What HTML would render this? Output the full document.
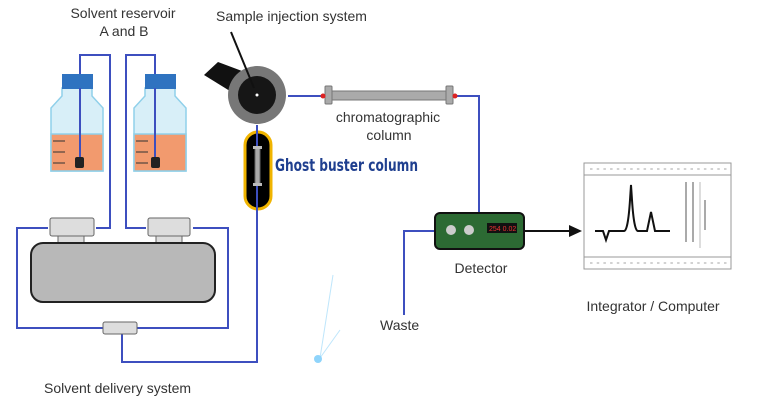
<!DOCTYPE html>
<html><head><meta charset="utf-8"><style>
html,body{margin:0;padding:0;background:#fff;}
svg{display:block;}
text{font-family:"Liberation Sans",sans-serif;fill:#333;font-size:14px;}
</style></head><body>
<svg width="773" height="409" viewBox="0 0 773 409" xmlns="http://www.w3.org/2000/svg">
<g fill="none" stroke="#3d4fbf" stroke-width="2">
<path d="M80 160 V55 H110 V228 H96"/>
<path d="M155 160 V55 H126 V228 H146"/>
<path d="M48 228 H17 V328 H228 V228 H193"/>
<path d="M122 334 V362 H257 V125"/>
<path d="M288 96 H323"/>
<path d="M455 96 H479 V214"/>
<path d="M436 231 H404 V315"/>
</g>
<g stroke="#8fd0ea" stroke-width="1.5">
<path d="M62 88 V96 L51 108 V171 H103 V108 L92 96 V88 Z" fill="#d8eff8"/>
<path d="M51 134 H103 V171 H51 Z" fill="#f29a6e"/>
<path d="M145 88 V96 L134 108 V171 H186 V108 L175 96 V88 Z" fill="#d8eff8"/>
<path d="M134 134 H186 V171 H134 Z" fill="#f29a6e"/>
</g>
<rect x="62" y="74" width="31" height="15" fill="#2f73c0"/>
<rect x="145" y="74" width="31" height="15" fill="#2f73c0"/>
<g stroke="#333" stroke-width="1"><path d="M53 141h12M53 152h12M53 163h12M136 141h12M136 152h12M136 163h12"/></g>
<path d="M80 88 V160 M155 88 V160" stroke="#3d4fbf" stroke-width="2"/>
<rect x="75" y="157" width="9" height="11" rx="2" fill="#222"/>
<rect x="151" y="157" width="9" height="11" rx="2" fill="#222"/>
<g stroke="#666" stroke-width="1" fill="#ddd">
<rect x="58" y="233" width="26" height="12"/>
<rect x="156" y="233" width="26" height="12"/>
<rect x="50" y="218" width="44" height="18" rx="2"/>
<rect x="148" y="218" width="42" height="18" rx="2"/>
<rect x="103" y="322" width="34" height="12" rx="2"/>
</g>
<rect x="31" y="243" width="184" height="59" rx="12" fill="#b8b8b8" stroke="#222" stroke-width="2"/>
<path d="M204 75 L218 62 L242 71 L238 96 Z" fill="#111"/>
<circle cx="257" cy="95" r="29" fill="#777"/>
<circle cx="257" cy="95" r="19" fill="#161616"/>
<circle cx="257" cy="95" r="1.5" fill="#fff"/>
<path d="M231 32 L254 88" stroke="#111" stroke-width="2"/>
<rect x="245" y="132" width="26" height="77" rx="13" fill="#000" stroke="#f0b400" stroke-width="3"/>
<path d="M257 125 V215" stroke="#3d4fbf" stroke-width="2"/>
<rect x="255" y="148" width="5" height="36" fill="#aaa" stroke="#666"/>
<rect x="253" y="146" width="9" height="3" fill="#bbb"/><rect x="253" y="183" width="9" height="3" fill="#bbb"/>
<rect x="331" y="91" width="115" height="9" fill="#aaa" stroke="#777"/>
<rect x="325" y="86" width="7" height="18" rx="1" fill="#aaa" stroke="#777"/>
<rect x="446" y="86" width="7" height="18" rx="1" fill="#aaa" stroke="#777"/>
<circle cx="323" cy="96" r="2.5" fill="#d22"/><circle cx="455" cy="96" r="2.5" fill="#d22"/>
<rect x="435" y="213" width="89" height="36" rx="5" fill="#2c6a33" stroke="#111" stroke-width="2"/>
<circle cx="451" cy="230" r="5" fill="#ccc"/><circle cx="469" cy="230" r="5" fill="#ccc"/>
<rect x="487" y="223" width="30" height="10" fill="#111"/>
<text x="489" y="231" style="font-size:7px;fill:#e33">254 0.02</text>
<path d="M524 231 H572" stroke="#111" stroke-width="2"/>
<path d="M582 231 L569 225 L569 237 Z" fill="#111"/>
<rect x="584" y="163" width="147" height="106" fill="#fff" stroke="#999"/>
<path d="M584 175 H731 M584 257 H731" stroke="#999"/>
<g fill="none" stroke="#888" stroke-width="0.8">
<path d="M590 169h138" stroke-dasharray="2.5 4.2"/>
<path d="M590 263h138" stroke-dasharray="2.5 4.2"/>
</g>
<path d="M595 231 H603 L606 240 L609 231 H624 Q628 231 630 200 L631 185 L632 200 Q634 231 638 231 H647 L651 212 L655 231 H670" fill="none" stroke="#111" stroke-width="2"/>
<path d="M700 182 V248" stroke="#bbb"/>
<g fill="#aaa"><rect x="685" y="182" width="2" height="60"/><rect x="692" y="182" width="2" height="60"/><rect x="704" y="200" width="2" height="30"/></g>
<text x="123" y="18" text-anchor="middle">Solvent reservoir</text>
<text x="124" y="36" text-anchor="middle">A and B</text>
<text x="216" y="21">Sample injection system</text>
<text x="388" y="122" text-anchor="middle">chromatographic</text>
<text x="389" y="140" text-anchor="middle">column</text>
<text x="275" y="171" style="font-family:'DejaVu Sans Condensed','Liberation Sans Narrow',sans-serif;font-weight:bold;font-size:17px;fill:#1f3f8f" textLength="143" lengthAdjust="spacingAndGlyphs">Ghost buster column</text>
<text x="481" y="273" text-anchor="middle">Detector</text>
<text x="653" y="311" text-anchor="middle">Integrator / Computer</text>
<text x="380" y="330">Waste</text>
<text x="44" y="393">Solvent delivery system</text>
<g stroke="#bfe6fb" stroke-width="1"><path d="M333 275 L320 358 M340 330 L320 358"/></g>
<circle cx="318" cy="359" r="4" fill="#8fd4fb"/>
</svg>
</body></html>
